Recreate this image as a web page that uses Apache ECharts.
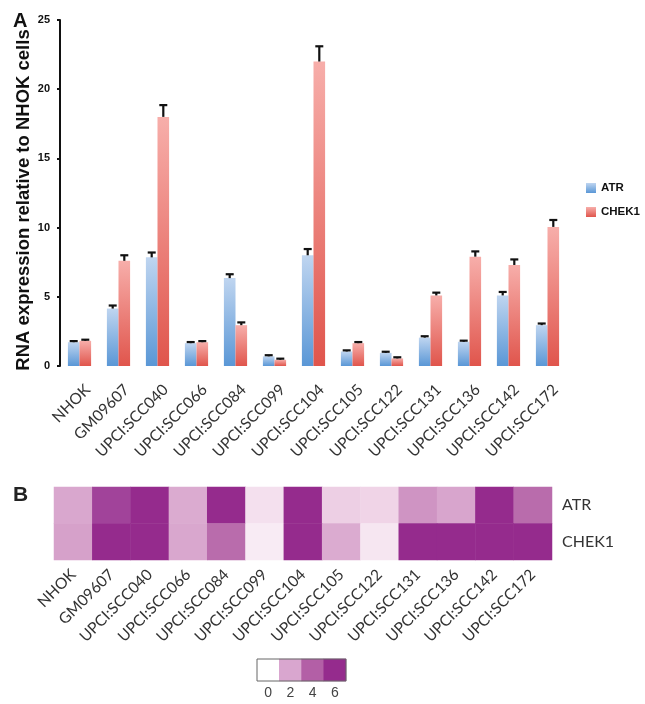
<!DOCTYPE html>
<html>
<head>
<meta charset="utf-8">
<script src="https://cdn.jsdelivr.net/npm/echarts@6/dist/echarts.min.js"></script>
<style>
html,body{margin:0;padding:0;background:#ffffff;}
#chart{width:645px;height:704px;}
</style>
</head>
<body>
<div id="chart"></div>
<script>
// ---- data ----
const categories = ['NHOK','GM09607','UPCI:SCC040','UPCI:SCC066','UPCI:SCC084','UPCI:SCC099','UPCI:SCC104','UPCI:SCC105','UPCI:SCC122','UPCI:SCC131','UPCI:SCC136','UPCI:SCC142','UPCI:SCC172'];
const atr      = [1.72, 4.15, 7.85, 1.65, 6.35, 0.70, 8.00, 1.05, 0.95, 2.05, 1.75, 5.10, 2.95];
const chek1    = [1.82, 7.60, 18.0, 1.72, 2.95, 0.45, 22.0, 1.65, 0.55, 5.10, 7.90, 7.30, 10.05];
const atrErr   = [0.08, 0.22, 0.35, 0.08, 0.28, 0.08, 0.45, 0.08, 0.08, 0.10, 0.08, 0.25, 0.12];
const chek1Err = [0.08, 0.40, 0.85, 0.08, 0.20, 0.08, 1.10, 0.08, 0.08, 0.20, 0.38, 0.40, 0.50];
const genes = ['ATR', 'CHEK1'];
const yAxisMin = 0, yAxisMax = 25, yAxisStep = 5;
const scaleTicks = ['0', '2', '4', '6'];
const scaleColors = ['#ffffff', '#d9a6cf', '#b35fa6', '#952b8d'];

// ---- styles ----
const BAR_W = 11.6;
const blueGrad = {type:'linear',x:0,y:0,x2:0,y2:1,colorStops:[{offset:0,color:'#bfd5f0'},{offset:1,color:'#5a97d6'}]};
const redGrad  = {type:'linear',x:0,y:0,x2:0,y2:1,colorStops:[{offset:0,color:'#f7aeaa'},{offset:1,color:'#e0554c'}]};
const labelFont = 'Lato, "Open Sans", sans-serif';
const boldFont = '"Liberation Sans", Arial, sans-serif';

function errSeries(vals, errs, sign) {
  return {
    type: 'custom',
    xAxisIndex: 0, yAxisIndex: 0, z: 5,
    silent: true,
    data: vals.map((v, i) => [i, v, v + errs[i]]),
    renderItem: function (params, api) {
      const base = api.coord([api.value(0), api.value(1)]);
      const top = api.coord([api.value(0), api.value(2)]);
      const x = base[0] + sign * BAR_W / 2;
      const st = {stroke: '#111', lineWidth: 2.2};
      return {type: 'group', children: [
        {type: 'line', shape: {x1: x, y1: base[1], x2: x, y2: top[1]}, style: st},
        {type: 'line', shape: {x1: x - 4, y1: top[1], x2: x + 4, y2: top[1]}, style: st}
      ]};
    }
  };
}

const heatData = [];
genes.forEach((g, gi) => {
  const arr = gi === 0 ? atr : chek1;
  arr.forEach((v, i) => heatData.push([i, gi, v]));
});

const chart = echarts.init(document.getElementById('chart'), null, {renderer: 'canvas'});
chart.setOption({
  backgroundColor: '#ffffff',
  animation: false,
  title: [
    {text: 'A', left: 8, top: 6, textStyle: {fontFamily: boldFont, fontWeight: 'bold', fontSize: 20, color: '#111'}},
    {text: 'B', left: 8, top: 480, textStyle: {fontFamily: boldFont, fontWeight: 'bold', fontSize: 21, color: '#222'}}
  ],
  legend: {
    orient: 'vertical', left: 581, top: 177,
    itemWidth: 10, itemHeight: 10, itemGap: 12,
    icon: 'rect',
    data: genes,
    textStyle: {fontFamily: boldFont, fontWeight: 'bold', fontSize: 11.5, color: '#111'}
  },
  grid: [
    {left: 60, right: 78, top: 20, bottom: 338},
    {left: 54, right: 93, top: 487, height: 73},
    {left: 257, width: 89, top: 659, height: 22, show: true, borderColor: '#666', borderWidth: 1, backgroundColor: 'transparent', z: 10}
  ],
  xAxis: [
    {gridIndex: 0, type: 'category', data: categories,
     axisLine: {show: false}, axisTick: {show: false},
     axisLabel: {interval: 0, rotate: 45, margin: 13, lineHeight: 23,
       formatter: function (v) { return '\n' + v; },
       fontFamily: labelFont, fontSize: 15.5, color: '#333'}},
    {gridIndex: 1, type: 'category', data: categories,
     axisLine: {show: false}, axisTick: {show: false},
     axisLabel: {interval: 0, rotate: 45, margin: 12, fontFamily: labelFont, fontSize: 15.5, color: '#333'}},
    {gridIndex: 2, type: 'category', data: scaleTicks,
     axisLine: {show: false}, axisTick: {show: false},
     axisLabel: {margin: 5, fontFamily: '"Liberation Sans", Arial, sans-serif', fontSize: 14, color: '#444'}}
  ],
  yAxis: [
    {gridIndex: 0, type: 'value', min: yAxisMin, max: yAxisMax, interval: yAxisStep,
     name: 'RNA expression relative to NHOK cells', nameLocation: 'middle', nameGap: 27, nameMoveOverlap: false,
     nameTextStyle: {fontFamily: boldFont, fontWeight: 'bold', fontSize: 18.5, color: '#111', padding: [0, 14, 0, 0]},
     axisLine: {show: true, lineStyle: {color: '#111', width: 2}},
     axisTick: {show: true, length: 3, lineStyle: {color: '#111', width: 2}},
     splitLine: {show: false},
     axisLabel: {margin: 10, fontFamily: boldFont, fontWeight: 'bold', fontSize: 11, color: '#111'}},
    {gridIndex: 1, type: 'category', data: genes, inverse: true, position: 'right',
     axisLine: {show: false}, axisTick: {show: false},
     axisLabel: {margin: 10, fontFamily: labelFont, fontSize: 16, color: '#333'}},
    {gridIndex: 2, type: 'category', data: [''], show: false}
  ],
  visualMap: [
    {type: 'continuous', show: false, seriesIndex: 4, dimension: 2, min: 0, max: 5,
     inRange: {color: ['#ffffff', '#efd2e6', '#d096c4', '#b86aab', '#a3479c', '#952b8d']}},
    {type: 'piecewise', show: false, seriesIndex: 5, dimension: 2,
     pieces: scaleTicks.map((t, i) => ({value: +t, color: scaleColors[i]}))}
  ],
  series: [
    {name: 'ATR', type: 'bar', xAxisIndex: 0, yAxisIndex: 0, data: atr, barWidth: BAR_W, barGap: '0%',
     itemStyle: {color: blueGrad}},
    {name: 'CHEK1', type: 'bar', xAxisIndex: 0, yAxisIndex: 0, data: chek1, barWidth: BAR_W, barGap: '0%',
     itemStyle: {color: redGrad}},
    errSeries(atr, atrErr, -1),
    errSeries(chek1, chek1Err, 1),
    {type: 'heatmap', xAxisIndex: 1, yAxisIndex: 1, data: heatData, itemStyle: {borderWidth: 0}},
    {type: 'heatmap', xAxisIndex: 2, yAxisIndex: 2, data: scaleTicks.map((t, i) => [i, 0, +t])}
  ]
});
</script>
</body>
</html>
